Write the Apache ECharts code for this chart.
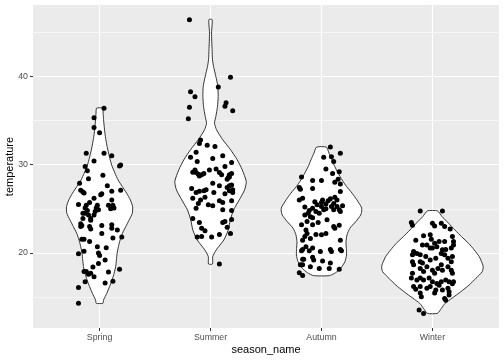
<!DOCTYPE html>
<html><head><meta charset="utf-8">
<script src="https://cdn.jsdelivr.net/npm/echarts@6/dist/echarts.min.js"></script>
<style>html,body{margin:0;padding:0;background:#fff}#c{width:504px;height:360px}</style>
</head><body><div id="c"></div>
<script>
const categories = ['Spring', 'Summer', 'Autumn', 'Winter'];
const yTicks = [20, 30, 40];
const yMinorTicks = [15, 25, 35, 45];

// jittered points: [horizontal jitter offset, temperature]
const springPts = [[0.04,36.4],[-0.05,35.3],[-0.05,34.2],[0.0,33.6],[-0.12,31.3],[0.04,31.3],[0.11,31.0],[-0.05,30.4],[-0.13,29.8],[-0.11,29.3],[0.18,29.85],[0.19,29.95],[0.03,28.8],[-0.10,28.4],[-0.18,27.9],[0.07,27.6],[-0.17,27.1],[-0.15,26.9],[-0.14,26.8],[0.19,27.1],[0.11,27.0],[0.02,26.7],[0.01,26.6],[-0.05,26.2],[0.11,26.0],[-0.19,25.5],[-0.12,25.4],[-0.09,25.7],[0.08,25.4],[0.12,25.4],[0.10,25.0],[0.13,25.1],[-0.13,25.1],[-0.11,24.8],[-0.13,24.5],[-0.02,25.4],[-0.03,25.1],[-0.01,24.9],[-0.04,24.7],[-0.05,24.3],[-0.10,24.3],[-0.08,23.9],[-0.08,23.7],[-0.15,24.5],[-0.15,23.9],[-0.17,23.3],[-0.17,23.0],[-0.16,23.1],[0.02,23.1],[0.11,23.2],[0.11,22.8],[0.16,22.6],[-0.09,23.0],[-0.08,22.7],[0.02,22.2],[0.12,21.7],[0.20,21.8],[-0.16,21.55],[-0.14,21.55],[-0.09,21.3],[-0.02,20.7],[0.06,20.6],[-0.01,20.0],[0.0,19.7],[-0.14,20.2],[-0.19,19.9],[0.05,19.2],[-0.01,18.8],[0.18,18.15],[-0.06,18.4],[-0.14,17.9],[-0.12,17.9],[-0.10,17.6],[-0.08,17.7],[-0.05,17.3],[0.12,16.8],[0.08,17.85],[-0.13,16.75],[0.05,16.6],[-0.19,16.1],[-0.19,14.3]];
const summerPts = [[-0.19,46.4],[0.18,39.9],[0.07,38.8],[-0.18,38.25],[-0.14,37.7],[0.14,37.0],[0.13,36.6],[-0.19,36.5],[0.20,36.1],[-0.20,35.2],[-0.09,32.8],[-0.10,32.4],[-0.03,32.2],[0.04,32.05],[-0.13,31.4],[-0.18,30.85],[-0.12,30.35],[0.02,30.7],[0.11,31.0],[0.19,30.25],[0.13,29.8],[-0.14,29.4],[-0.16,29.15],[-0.13,29.1],[-0.11,28.9],[-0.10,28.7],[-0.06,29.0],[-0.08,28.85],[-0.01,29.4],[0.05,29.5],[0.08,29.1],[0.10,28.85],[0.17,28.85],[0.19,29.0],[0.16,28.55],[0.17,28.6],[0.15,28.35],[0.02,27.9],[0.19,27.7],[0.08,27.6],[0.17,27.6],[0.15,27.4],[-0.17,27.3],[-0.04,27.15],[0.20,27.15],[0.17,27.05],[-0.10,27.0],[-0.06,27.05],[-0.13,26.85],[0.03,26.85],[0.20,26.85],[0.13,26.7],[-0.05,26.3],[-0.16,26.2],[-0.09,26.0],[-0.11,25.6],[0.08,25.9],[0.19,25.9],[0.11,25.7],[-0.02,25.45],[0.02,25.35],[-0.13,25.05],[0.11,24.9],[0.19,24.8],[-0.16,23.9],[0.19,23.8],[0.11,23.45],[-0.10,23.45],[0.13,23.55],[0.15,22.9],[-0.08,22.8],[-0.05,22.5],[0.18,22.2],[0.08,22.1],[-0.12,21.8],[-0.08,21.85],[0.01,21.8],[0.08,18.75]];
const autumnPts = [[0.08,32.0],[0.02,30.85],[0.09,30.9],[0.11,30.35],[0.17,31.3],[0.04,29.5],[0.10,29.0],[0.16,29.2],[0.15,28.35],[0.12,28.0],[-0.18,28.6],[-0.20,27.4],[-0.19,27.2],[-0.08,28.2],[0.0,28.2],[-0.08,27.3],[0.17,27.8],[0.17,26.95],[-0.17,26.2],[-0.20,26.0],[-0.08,25.05],[-0.06,25.8],[0.0,25.7],[0.01,26.0],[0.04,25.55],[0.0,25.25],[0.06,25.9],[0.08,26.15],[0.12,26.3],[0.14,26.0],[0.11,25.6],[0.09,25.25],[0.14,25.25],[0.16,24.9],[0.19,25.35],[0.17,24.7],[0.11,24.9],[0.04,25.0],[0.02,24.9],[-0.02,24.5],[-0.05,24.7],[-0.12,24.5],[-0.15,24.3],[-0.10,24.1],[-0.08,24.0],[-0.15,25.2],[-0.11,24.8],[-0.04,25.45],[-0.18,23.2],[-0.13,23.55],[-0.14,22.6],[-0.15,21.85],[-0.08,23.2],[-0.03,23.45],[0.05,23.75],[0.11,23.0],[0.12,22.8],[0.16,23.15],[0.04,22.2],[0.0,22.05],[-0.05,22.1],[-0.10,21.65],[-0.13,22.2],[-0.17,21.45],[0.17,21.45],[0.17,20.4],[0.18,20.25],[0.08,20.4],[0.09,20.15],[-0.01,20.15],[-0.08,20.55],[-0.14,20.7],[-0.17,20.4],[-0.18,20.25],[-0.11,20.25],[-0.17,19.3],[-0.16,19.3],[-0.08,19.5],[-0.07,19.2],[0.01,19.1],[-0.17,18.65],[-0.19,18.65],[0.08,18.85],[0.07,18.25],[-0.02,18.25],[0.16,18.15],[-0.10,18.45],[-0.20,17.75],[-0.17,17.45]];
const winterPts = [[-0.11,24.75],[0.09,24.75],[-0.19,23.45],[-0.18,23.15],[0.0,23.35],[0.02,23.05],[0.08,23.35],[0.11,23.0],[0.16,22.7],[-0.08,21.95],[-0.02,22.05],[-0.01,21.55],[-0.15,21.45],[0.02,21.1],[0.06,21.3],[0.11,21.3],[0.18,21.85],[0.19,21.3],[0.19,20.9],[-0.09,20.9],[-0.05,20.9],[-0.02,20.55],[0.0,20.55],[0.04,20.7],[0.09,20.35],[0.12,20.4],[0.17,20.55],[-0.17,20.15],[-0.14,19.95],[-0.18,19.8],[-0.11,19.8],[-0.06,19.6],[-0.02,19.2],[0.03,19.4],[0.08,19.95],[0.11,19.8],[0.14,19.4],[0.17,19.0],[0.18,19.6],[-0.18,19.0],[-0.17,18.65],[-0.11,19.0],[-0.09,18.85],[-0.11,18.25],[-0.08,17.9],[-0.05,18.45],[0.0,18.05],[0.02,17.7],[0.05,18.25],[0.08,18.65],[0.09,18.05],[0.14,18.45],[0.17,18.05],[0.18,17.7],[-0.18,17.7],[-0.19,17.15],[-0.14,16.95],[-0.11,17.15],[-0.08,16.95],[-0.03,17.15],[0.0,16.75],[0.04,16.55],[0.08,16.75],[0.12,16.95],[0.15,16.75],[0.19,16.75],[0.18,16.5],[-0.17,16.2],[-0.15,15.9],[-0.11,16.2],[-0.05,16.0],[-0.02,16.2],[0.03,15.8],[0.06,16.35],[0.09,15.8],[0.14,16.0],[0.15,15.6],[-0.11,15.45],[-0.10,15.05],[0.02,15.45],[0.11,14.85],[0.12,14.65],[0.15,15.25],[-0.12,13.55],[-0.08,13.15]];

// violin outlines: [temperature, half width], top to bottom
const springViolin = [[36.4,0.027],[35.84,0.032],[35.08,0.036],[34.32,0.042],[33.57,0.048],[32.81,0.057],[32.05,0.068],[31.3,0.081],[30.54,0.096],[29.78,0.114],[29.03,0.139],[28.28,0.166],[27.52,0.205],[26.77,0.244],[26.01,0.277],[25.25,0.298],[24.5,0.295],[23.74,0.267],[22.98,0.236],[22.23,0.206],[21.47,0.185],[20.71,0.170],[19.96,0.158],[19.21,0.152],[18.45,0.145],[17.7,0.131],[16.94,0.113],[16.18,0.090],[15.43,0.065],[14.67,0.036],[14.3,0.030]];
const summerViolin = [[46.42,0.015],[44.91,0.009],[43.02,0.014],[41.88,0.018],[41.13,0.027],[39.99,0.048],[38.86,0.066],[37.72,0.069],[36.59,0.063],[35.46,0.048],[34.7,0.036],[33.95,0.054],[32.81,0.111],[31.68,0.181],[30.54,0.241],[29.41,0.286],[28.09,0.322],[27.14,0.307],[26.01,0.259],[24.88,0.208],[23.74,0.178],[22.61,0.160],[21.47,0.120],[20.34,0.051],[19.58,0.020],[18.75,0.018]];
const autumnViolin = [[31.98,0.045],[31.3,0.068],[30.54,0.095],[29.78,0.120],[29.03,0.151],[28.28,0.185],[27.52,0.226],[26.77,0.276],[26.01,0.319],[25.25,0.357],[24.88,0.364],[24.31,0.354],[23.55,0.309],[22.8,0.256],[22.04,0.230],[21.28,0.221],[20.53,0.224],[19.77,0.226],[19.01,0.211],[18.26,0.173],[17.77,0.128],[17.43,0.072]];
const winterViolin = [[24.76,0.045],[24.12,0.087],[23.37,0.145],[22.61,0.202],[21.85,0.262],[21.1,0.325],[20.34,0.377],[19.58,0.422],[18.83,0.449],[18.45,0.458],[17.88,0.449],[17.13,0.392],[16.37,0.331],[15.61,0.256],[14.86,0.175],[14.29,0.114],[13.73,0.081],[13.16,0.045]];

const violins = [springViolin, summerViolin, autumnViolin, winterViolin];
const allPts = [springPts, summerPts, autumnPts, winterPts];
const pointData = [];
allPts.forEach((pts, i) => pts.forEach(p => pointData.push([i + 1 + p[0], p[1]])));

const FONT = 'Liberation Sans, Arial, sans-serif';
const chart = echarts.init(document.getElementById('c'), null, { renderer: 'canvas' });
const gridLines = []
  .concat(yMinorTicks.map(v => ({ yAxis: v, lineStyle: { width: 0.55 } })))
  .concat(yTicks.map(v => ({ yAxis: v, lineStyle: { width: 1.1 } })))
  .concat(categories.map((c, i) => ({ xAxis: i + 1, lineStyle: { width: 1.1 } })));

chart.setOption({
  animation: false,
  backgroundColor: '#ffffff',
  grid: { left: 33, right: 5, top: 5, bottom: 32, show: true, backgroundColor: '#EBEBEB', borderWidth: 0, outerBoundsMode: 'none', containLabel: false },
  xAxis: {
    type: 'value', min: 0.4, max: 4.6,
    name: 'season_name', nameLocation: 'middle', nameGap: 16, nameMoveOverlap: false,
    nameTextStyle: { fontFamily: FONT, fontSize: 11, color: '#000' },
    axisLine: { show: false },
    axisTick: { show: true, length: 3, customValues: [1, 2, 3, 4], lineStyle: { color: '#333333', width: 1 } },
    axisLabel: { customValues: [1, 2, 3, 4], formatter: v => categories[Math.round(v) - 1], fontFamily: FONT, fontSize: 8.8, color: '#4D4D4D', margin: 5 },
    splitLine: { show: false }
  },
  yAxis: {
    type: 'value', min: 11.5, max: 48.08,
    name: 'temperature', nameLocation: 'middle', nameGap: 18, nameRotate: 90, nameMoveOverlap: false,
    nameTextStyle: { fontFamily: FONT, fontSize: 11, color: '#000' },
    axisLine: { show: false },
    axisTick: { show: true, length: 3, customValues: yTicks, lineStyle: { color: '#333333', width: 1 } },
    axisLabel: { customValues: yTicks, fontFamily: FONT, fontSize: 8.8, color: '#4D4D4D', margin: 5 },
    splitLine: { show: false }
  },
  series: [
    {
      type: 'scatter', data: [], z: 1, silent: true,
      markLine: { z: 1, silent: true, symbol: ['none', 'none'], label: { show: false }, animation: false,
        lineStyle: { color: '#ffffff', type: 'solid', width: 1 }, data: gridLines }
    },
    {
      type: 'custom', z: 2, silent: true,
      data: categories.map((c, i) => [i]),
      encode: { x: -1, y: -1 },
      renderItem: function (params, api) {
        const i = api.value(0);
        const prof = violins[i];
        const cx = i + 1;
        const pts = [];
        for (let k = 0; k < prof.length; k++) pts.push(api.coord([cx + prof[k][1], prof[k][0]]));
        for (let k = prof.length - 1; k >= 0; k--) pts.push(api.coord([cx - prof[k][1], prof[k][0]]));
        return { type: 'polygon', shape: { points: pts, smooth: 0.2 }, style: { fill: '#ffffff', stroke: '#333333', lineWidth: 1 } };
      }
    },
    {
      type: 'scatter', z: 3, data: pointData, symbolSize: 5, itemStyle: { color: '#000000', opacity: 1 }, silent: true
    }
  ]
});
</script></body></html>
